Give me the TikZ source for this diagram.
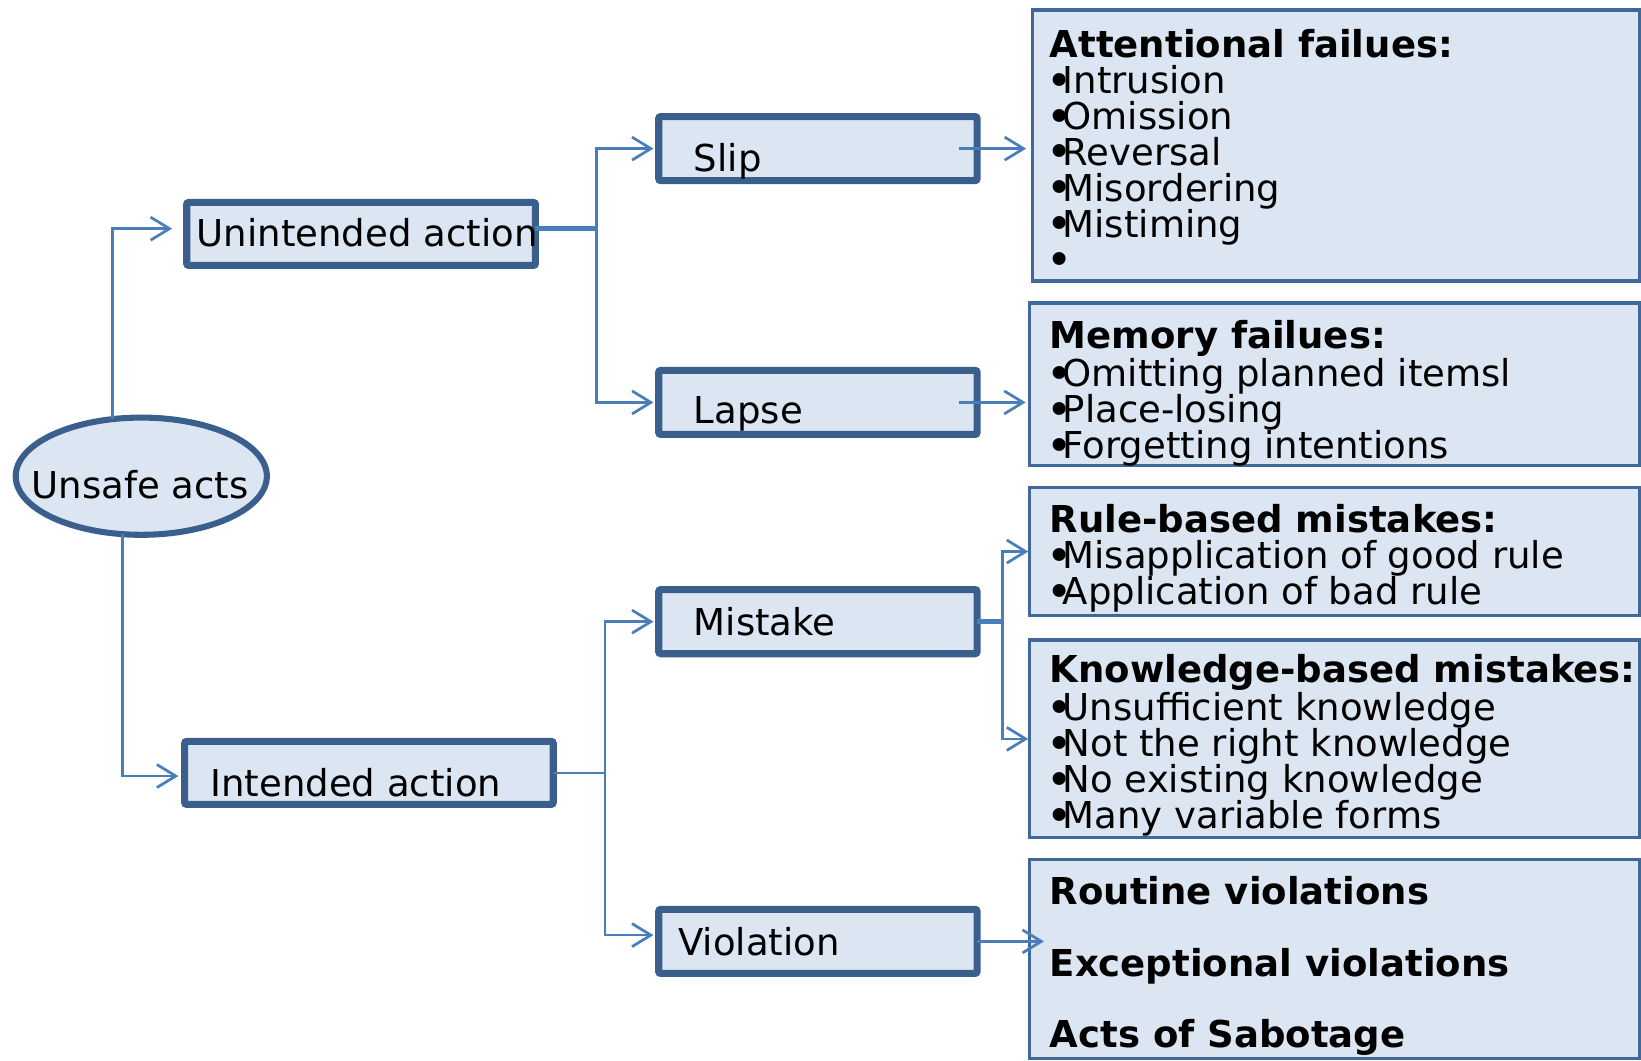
\documentclass[tikz,border=0pt]{standalone}
\usepackage{fontspec}
\usepackage{graphicx}
\setmainfont{DejaVu Sans}
\usetikzlibrary{arrows.meta,shapes.geometric}

\definecolor{boxfill}{HTML}{DCE6F2}
\definecolor{boxline}{HTML}{3A5F8C}
\definecolor{infoline}{HTML}{41689A}
\definecolor{wirecol}{HTML}{4A7EBB}

% enlarged bullet glyph with a tight gap to the following word
\newcommand\bul{\makebox[6.2pt][l]{\hspace{-1.75pt}\raisebox{-1.3pt}{\scalebox{1.2}{•}}}}
\newcommand\infolines[1]{\parbox[t]{300pt}{\raggedright #1}}

\begin{document}
\begin{tikzpicture}[x=0.5pt,y=-0.5pt,
  every node/.style={inner sep=0pt, outer sep=0pt},
  actbox/.style={draw=boxline, fill=boxfill, line width=3.4pt, rounded corners=1pt,
                 minimum width=152.1pt, minimum height=30.6pt},
  infobox/.style={draw=infoline, fill=boxfill, line width=1.5pt, minimum width=291.5pt},
  rootshape/.style={ellipse, draw=boxline, fill=boxfill, line width=2.9pt,
                 minimum width=120pt, minimum height=56pt},
  lbl/.style={anchor=base west, font=\fontsize{17.7}{17.15}\selectfont},
  wire/.style={draw=wirecol, line width=1.3pt},
  thickwire/.style={draw=wirecol, line width=2.25pt},
  arr/.style={wire, shorten >=2.5pt, -{Straight Barb[length=9pt,width=11pt]}},
]
\useasboundingbox (0,0) rectangle (1568,1013);

% root
\node[rootshape] (ell) at (135,455) {};
\node[lbl] (ellT) at (30,476) {Unsafe acts};

% first level
\node[actbox, minimum width=166.6pt, minimum height=30.1pt] (una) at (345,223.5) {};
\node[lbl] (unaT) at (188,236) {Unintended action};
\node[actbox, minimum width=176.1pt, minimum height=30.1pt] (ina) at (352.5,738.5) {};
\node[lbl] (inaT) at (201,761) {Intended action};

% second level
\node[actbox] (slip) at (781.5,142) {};
\node[lbl] (slipT) at (663,164) {Slip};
\node[actbox] (lapse) at (781.5,384.5) {};
\node[lbl] (lapseT) at (663,405) {Lapse};
\node[actbox] (mist) at (781.5,594) {};
\node[lbl] (mistT) at (663,607) {Mistake};
\node[actbox] (viol) at (781.5,899.5) {};
\node[lbl] (violT) at (648,913) {Violation};

% detail boxes
\node[infobox, minimum width=290pt, minimum height=129.5pt] (att) at (1276.5,139) {};
\node[infobox, minimum height=77.5pt] (mem) at (1275,367) {};
\node[infobox, minimum height=61.5pt] (rule) at (1275,527) {};
\node[infobox, minimum height=94.5pt] (know) at (1275,706) {};
\node[infobox, minimum height=95pt] (vtypes) at (1275,916.5) {};

\node[lbl] (attT) at (1003,55) {\infolines{\textbf{Attentional failues:}\\
  \bul Intrusion\\ \bul Omission\\ \bul Reversal\\ \bul Misordering\\ \bul Mistiming\\ \bul}};
\node[lbl] (memT) at (1003,333) {\infolines{\textbf{Memory failues:}\\
  \bul Omitting planned itemsl\\ \bul Place-losing\\ \bul Forgetting intentions}};
\node[lbl] (ruleT) at (1003,509) {\infolines{\textbf{Rule-based mistakes:}\\
  \bul Misapplication of good rule\\ \bul Application of bad rule}};
\node[lbl] (knowT) at (1003,652) {\infolines{\textbf{Knowledge-based mistakes:}\\
  \bul Unsufficient knowledge\\ \bul Not the right knowledge\\ \bul No existing knowledge\\ \bul Many variable forms}};
\node[lbl] (vtypesT) at (1003,864) {\infolines{\textbf{Routine violations}\\[17.15pt]
  \textbf{Exceptional violations}\\[17.15pt] \textbf{Acts of Sabotage}}};

% connectors from the root
\draw[arr, shorten >=7pt] (ell.117) |- ([yshift=2.5pt]una.west);
\draw[arr, shorten >=3pt] (ell.252) |- ([yshift=-1.5pt]ina.west);

% unintended branch
\coordinate (jA) at (570,218.5);
\draw[thickwire] ([yshift=2.5pt]una.east) -- (jA);
\draw[arr] (jA) |- (slip.west);
\draw[arr] (jA) |- (lapse.west);
\draw[arr, shorten >=3pt] ([xshift=-8.5pt]slip.east) -- (slip.east -| att.west);
\draw[arr, shorten >=1.75pt] ([xshift=-8.5pt]lapse.east) -- (lapse.east -| mem.west);

% intended branch
\coordinate (jB) at (578,738.5);
\draw[wire] (ina.east) -- (jB);
\draw[arr] (jB) |- (mist.west);
\draw[arr] (jB) |- ([yshift=3pt]viol.west);

\coordinate (jC) at (958,594);
\draw[thickwire] (mist.east) -- (jC);
\draw[arr, shorten >=0.5pt] (jC) |- (rule.west);
\draw[arr, shorten >=0.5pt] (jC) |- (know.west);
\draw[arr, shorten >=0pt] (viol.east) -- ([xshift=7pt]viol.east -| vtypes.west);
\end{tikzpicture}
\end{document}
